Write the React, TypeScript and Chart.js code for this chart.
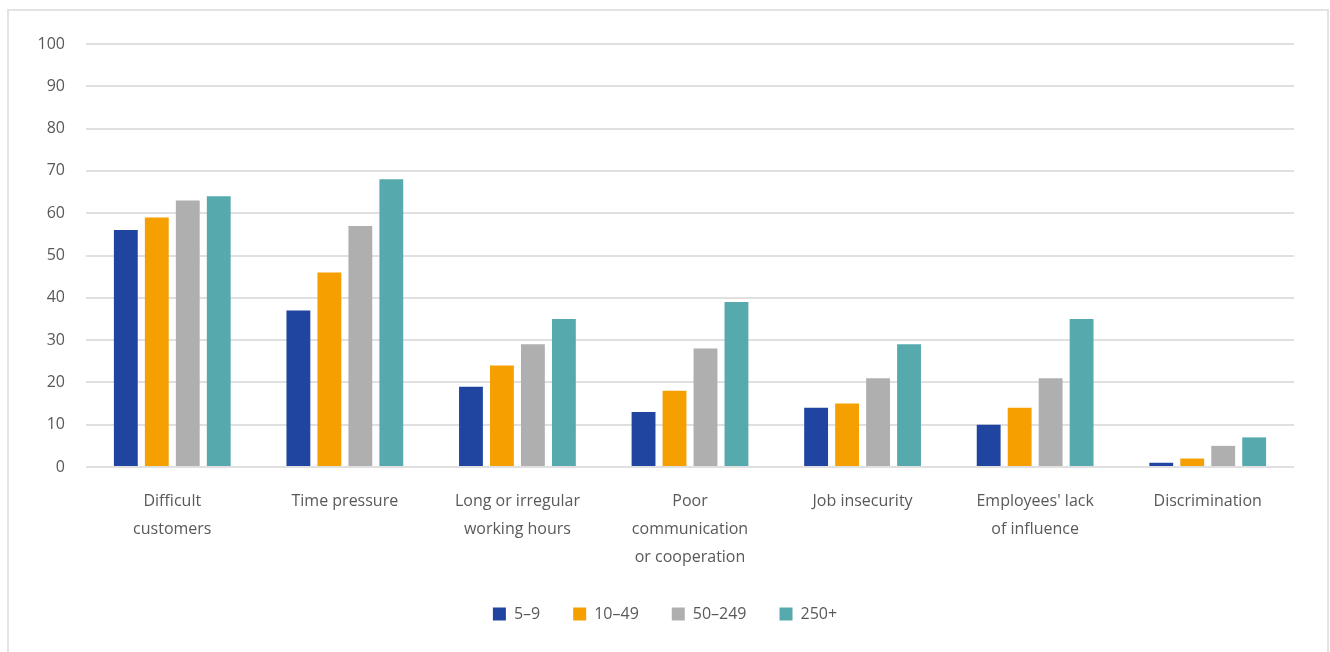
import React, { useEffect, useRef } from "react";
import { Chart, registerables } from "chart.js";

Chart.register(...registerables);

const categories: (string | string[])[] = [
  ["Difficult", "customers"],
  "Time pressure",
  ["Long or irregular", "working hours"],
  ["Poor", "communication", "or cooperation"],
  "Job insecurity",
  ["Employees' lack", "of influence"],
  "Discrimination",
];

const seriesNames = ["5–9", "10–49", "50–249", "250+"];
const size5to9 = [56, 37, 19, 13, 14, 10, 1];
const size10to49 = [59, 46, 24, 18, 15, 14, 2];
const size50to249 = [63, 57, 29, 28, 21, 21, 5];
const size250plus = [64, 68, 35, 39, 29, 35, 7];
const seriesColors = ["#1F45A0", "#F5A000", "#AEAFAE", "#56AAAE"];

const yMin = 0;
const yMax = 100;
const yStep = 10;

const FONT = "'Open Sans', 'Noto Sans', sans-serif";
const TEXT = "#595959";

const legendShift = {
  id: "legendShift",
  afterLayout(chart: any) {
    const lg = chart.legend;
    if (lg) {
      lg.left += 18;
      lg.right += 18;
    }
  },
};

export default function App() {
  const ref = useRef<HTMLCanvasElement | null>(null);

  useEffect(() => {
    if (!ref.current) return;
    const values = [size5to9, size10to49, size50to249, size250plus];
    const chart = new Chart(ref.current, {
      type: "bar",
      data: {
        labels: categories,
        datasets: seriesNames.map((name, i) => ({
          label: name,
          data: values[i],
          backgroundColor: seriesColors[i],
          borderWidth: 0,
          categoryPercentage: 0.718,
          barPercentage: 0.77,
        })),
      },
      plugins: [legendShift],
      options: {
        animation: false,
        responsive: false,
        layout: { padding: { top: 44, left: 0, right: 36, bottom: 20 } },
        plugins: {
          tooltip: { enabled: false },
          legend: {
            position: "bottom",
            labels: {
              boxWidth: 13,
              boxHeight: 13,
              padding: 33,
              color: TEXT,
              font: { family: FONT, size: 16 },
            },
          },
        },
        scales: {
          x: {
            grid: { display: false, drawTicks: false },
            border: { display: false },
            ticks: {
              color: TEXT,
              font: { family: FONT, size: 16, lineHeight: "28px" },
              padding: 20,
              maxRotation: 0,
              autoSkip: false,
            },
            afterFit: (s: any) => {
              s.height = 106;
            },
          },
          y: {
            min: yMin,
            max: yMax,
            ticks: {
              stepSize: yStep,
              color: TEXT,
              font: { family: FONT, size: 16 },
              padding: 21,
            },
            grid: { color: "#e0e0e0", lineWidth: 2, drawTicks: false },
            border: { display: false },
            afterFit: (s: any) => {
              s.width = 86;
            },
          },
        },
      },
    });
    return () => chart.destroy();
  }, []);

  return (
    <div
      style={{
        position: "absolute",
        left: 0,
        top: 0,
        width: 1330,
        height: 652,
        overflow: "hidden",
        background: "#fff",
      }}
    >
      <div
        style={{
          position: "absolute",
          left: 7,
          top: 9,
          width: 1318,
          height: 700,
          border: "2px solid #e3e3e3",
        }}
      />
      <canvas
        ref={ref}
        width={1330}
        height={652}
        style={{ position: "absolute", left: 0, top: 0 }}
      />
    </div>
  );
}
